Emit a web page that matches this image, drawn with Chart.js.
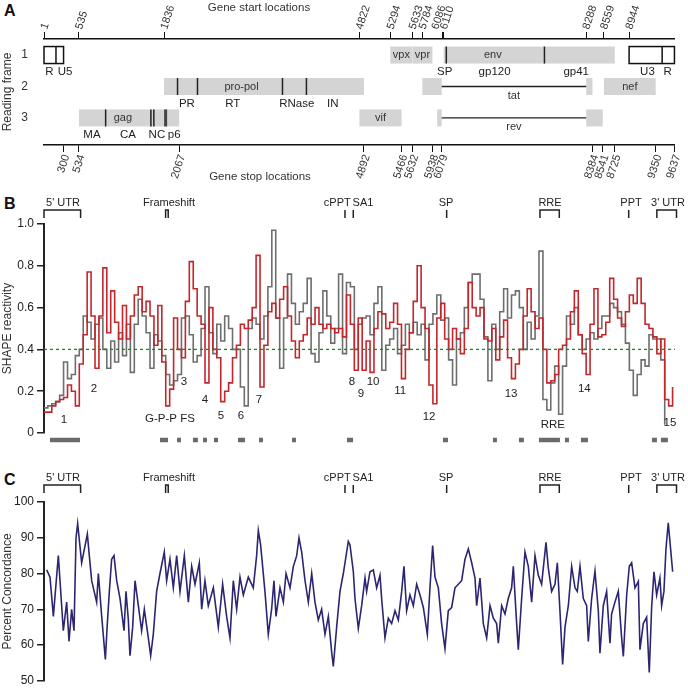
<!DOCTYPE html>
<html>
<head>
<meta charset="utf-8">
<script src="https://cdn.jsdelivr.net/npm/chart.js@4.4.1/dist/chart.umd.min.js"></script>
<style>
  body { margin: 0; background: #fff; width: 688px; height: 691px; position: relative; overflow: hidden; }
  canvas { position: absolute; left: 0; }
  .panel { position: absolute; left: 4px; font: bold 16px Arial, "Liberation Sans", sans-serif; color: #111; }
</style>
</head>
<body>
<div class="panel" style="top:2px">A</div>
<div class="panel" style="top:195px">B</div>
<div class="panel" style="top:471px">C</div>
<canvas id="mapChart" width="688" height="185" style="top:0"></canvas>
<canvas id="shapeChart" width="688" height="265" style="top:190px"></canvas>
<canvas id="concChart" width="688" height="231" style="top:460px"></canvas>
<script>
// genome length and axis ticks of panel A
const genomeLength = 9637;
const startTicks = [1, 535, 1836, 4822, 5294, 5633, 5784, 6086, 6110, 8288, 8559, 8944];
const stopTicks = [300, 534, 2067, 4892, 5466, 5632, 5938, 6079, 8384, 8541, 8725, 9350, 9637];

// genes (grey boxes)
const geneNames = ['vpx', 'vpr', 'env', 'pro-pol', 'nef', 'gag', 'vif'];
const geneFrames = [1, 1, 1, 2, 2, 3, 3];
const geneStarts = [5294, 5633, 6110, 1836, 8559, 535, 4822];
const geneEnds = [5632, 5938, 8725, 4892, 9350, 2067, 5466];
const geneLabelPos = [5463, 5785, 6860, 3020, 8955, 1207, 5144];

// spliced genes
const splicedNames = ['tat', 'rev'];
const splicedFrames = [2, 3];
const exon1Starts = [5784, 6010];
const exon1Ends = [6079, 6079];
const exon2Starts = [8288, 8288];
const exon2Ends = [8384, 8541];

// LTRs (open boxes)
const ltrStarts = [1, 8944];
const ltrEnds = [300, 9637];
const ltrSplits = [184, 9449];

// protein domain boundaries and labels
const cutPos = [943, 1635, 1680, 2042, 2347, 3646, 4012, 6150, 7650];
const cutFrames = [3, 3, 3, 2, 2, 2, 2, 1, 1];
const p6Pos = 1860;
const domainNames = ['MA', 'CA', 'NC', 'p6', 'PR', 'RT', 'RNase', 'IN', 'SP', 'gp120', 'gp41', 'R', 'U5', 'U3', 'R'];
const domainFrames = [3, 3, 3, 3, 2, 2, 2, 2, 1, 1, 1, 1, 1, 1, 1];
const domainPos = [734, 1284, 1727, 1990, 2185, 2887, 3864, 4414, 6125, 6888, 8135, 82, 322, 9224, 9534];

// genome features marked above B and C
const featNames = ["5' UTR", 'Frameshift', 'cPPT', 'SA1', 'SP', 'RRE', 'PPT', "3' UTR"];
const featStarts = [1, 1858, 4597, 4724, 6150, 7575, 8930, 9360];
const featEnds = [560, 1898, 4597, 4724, 6150, 7870, 8930, 9660];
const featLabelPos = [291, 1910, 4480, 4872, 6140, 7728, 8965, 9530];

// SHAPE reactivity (two data sets)
const shapePos = [
  1, 60, 120, 180, 240, 300, 360, 420, 480, 540,
  600, 660, 720, 780, 840, 900, 960, 1020, 1080, 1140,
  1200, 1260, 1320, 1380, 1440, 1500, 1560, 1620, 1680, 1740,
  1800, 1860, 1920, 1980, 2040, 2100, 2160, 2220, 2280, 2340,
  2400, 2460, 2520, 2580, 2640, 2700, 2760, 2820, 2880, 2940,
  3000, 3060, 3120, 3180, 3240, 3300, 3360, 3420, 3480, 3540,
  3600, 3660, 3720, 3780, 3840, 3900, 3960, 4020, 4080, 4140,
  4200, 4260, 4320, 4380, 4440, 4500, 4560, 4620, 4680, 4740,
  4800, 4860, 4920, 4980, 5040, 5100, 5160, 5220, 5280, 5340,
  5400, 5460, 5520, 5580, 5640, 5700, 5760, 5820, 5880, 5940,
  6000, 6060, 6120, 6180, 6240, 6300, 6360, 6420, 6480, 6540,
  6600, 6660, 6720, 6780, 6840, 6900, 6960, 7020, 7080, 7140,
  7200, 7260, 7320, 7380, 7440, 7500, 7560, 7620, 7680, 7740,
  7800, 7860, 7920, 7980, 8040, 8100, 8160, 8220, 8280, 8340,
  8400, 8460, 8520, 8580, 8640, 8700, 8760, 8820, 8880, 8940,
  9000, 9060, 9120, 9180, 9240, 9300, 9360, 9420, 9480, 9540,
  9600
];
const shapeRed = [
  .10, .10, .13, .15, .16, .17, .23, .20, .13, .33,
  .47, .77, .56, .31, .56, .79, .48, .68, .53, .45,
  .61, .45, .56, .66, .70, .58, .63, .56, .42, .61,
  .34, .13, .21, .55, .40, .36, .63, .82, .69, .56,
  .52, .24, .60, .40, .36, .15, .20, .24, .36, .42,
  .52, .50, .54, .60, .85, .22, .42, .58, .62, .55,
  .64, .70, .56, .44, .36, .44, .47, .55, .52, .60,
  .52, .50, .52, .50, .48, .50, .46, .66, .52, .30,
  .55, .30, .44, .29, .50, .58, .57, .50, .53, .62,
  .52, .26, .40, .48, .63, .80, .60, .50, .23, .14,
  .55, .62, .45, .40, .50, .45, .38, .50, .72, .60,
  .56, .60, .45, .44, .50, .35, .46, .54, .36, .26,
  .33, .40, .56, .69, .58, .50, .55, .40, .24, .25,
  .28, .40, .42, .45, .58, .68, .47, .38, .28, .52,
  .69, .46, .47, .53, .74, .64, .55, .51, .58, .66,
  .62, .74, .62, .52, .50, .46, .38, .45, .16, .13,
  .22
];
const shapeGrey = [
  .12, .13, .14, .15, .18, .34, .26, .28, .37, .40,
  .56, .53, .45, .52, .55, .40, .31, .44, .34, .48,
  .37, .52, .29, .52, .64, .56, .48, .31, .47, .44,
  .37, .28, .23, .25, .28, .55, .56, .47, .34, .37,
  .50, .70, .48, .38, .52, .44, .56, .50, .40, .40,
  .22, .13, .50, .55, .52, .45, .56, .70, .97, .55,
  .31, .55, .76, .62, .52, .58, .62, .74, .38, .34,
  .48, .68, .56, .43, .50, .76, .38, .72, .70, .40,
  .52, .55, .56, .47, .62, .70, .30, .42, .45, .50,
  .38, .42, .52, .48, .53, .47, .52, .35, .52, .57,
  .66, .54, .55, .35, .23, .45, .48, .60, .72, .76,
  .76, .64, .46, .25, .52, .40, .58, .69, .55, .66,
  .68, .60, .40, .53, .45, .56, .87, .16, .11, .24,
  .32, .09, .32, .56, .52, .60, .47, .40, .45, .48,
  .45, .50, .56, .56, .62, .60, .58, .52, .43, .30,
  .18, .28, .35, .32, .47, .45, .45, .35, .04, null,
  null
];
const shapeThreshold = 0.4;

// low-reactivity regions (grey blocks under B)
const blockStarts = [93, 1772, 2032, 2276, 2429, 2597, 2964, 3284, 3788, 4628, 6094, 6857, 7254, 7560, 7957, 8201, 9285, 9422];
const blockEnds = [551, 1894, 2093, 2352, 2490, 2658, 3070, 3345, 3849, 4720, 6170, 6918, 7330, 7880, 8018, 8308, 9361, 9529];

// numbered low-SHAPE labels in B
const dipLabels = ['1', '2', '3', '4', '5', '6', '7', 'G-P-P FS', '8', '9', '10', '11', '12', '13', '14', 'RRE', '15'];
const dipPos = [306, 764, 2139, 2460, 2704, 3009, 3284, 1924, 4704, 4842, 5026, 5439, 5882, 7134, 8253, 7772, 9560];
const dipVal = [.062, .211, .244, .158, .081, .081, .158, .067, .244, .187, .244, .201, .077, .187, .211, .038, .048];

// percent concordance (vertices)
const concPos = [
  42, 93, 144, 220, 296, 347, 383, 423, 459, 490,
  515, 576, 663, 693, 729, 805, 831, 882, 938, 968,
  999, 1034, 1070, 1111, 1162, 1223, 1253, 1289, 1314, 1355,
  1391, 1442, 1492, 1533, 1594, 1630, 1670, 1721, 1772, 1838,
  1874, 1925, 1976, 2027, 2078, 2144, 2205, 2256, 2307, 2373,
  2409, 2459, 2510, 2587, 2663, 2729, 2790, 2841, 2892, 2943,
  2994, 3045, 3121, 3197, 3248, 3274, 3309, 3375, 3426, 3477,
  3513, 3544, 3605, 3656, 3697, 3758, 3809, 3860, 3895, 3936,
  3987, 4038, 4089, 4139, 4190, 4241, 4292, 4343, 4394, 4419,
  4470, 4521, 4572, 4648, 4674, 4725, 4750, 4801, 4852, 4903,
  4928, 4979, 5030, 5081, 5132, 5157, 5208, 5259, 5310, 5361,
  5412, 5463, 5498, 5539, 5590, 5641, 5692, 5743, 5794, 5855,
  5895, 5936, 5972, 6023, 6073, 6124, 6175, 6226, 6277, 6328,
  6379, 6430, 6481, 6532, 6583, 6608, 6659, 6710, 6761, 6812,
  6863, 6913, 6939, 6990, 7041, 7091, 7142, 7168, 7219, 7244,
  7295, 7346, 7397, 7448, 7499, 7550, 7600, 7667, 7702, 7753,
  7804, 7840, 7880, 7921, 7957, 8008, 8059, 8110, 8145, 8186,
  8237, 8288, 8313, 8364, 8415, 8466, 8491, 8542, 8593, 8644,
  8669, 8720, 8771, 8822, 8848, 8899, 8939, 8975, 9026, 9077,
  9102, 9153, 9204, 9244, 9280, 9316, 9357, 9407, 9433, 9468,
  9499, 9534, 9570, 9601
];
const concValues = [
  81, 79, 68, 85, 64, 72, 61, 70, 64, 90,
  94, 83, 91, 85, 78, 72, 80, 68, 56, 66,
  75, 84, 85, 78, 73, 64, 75, 67, 57, 65,
  78, 71, 64, 70, 62, 57, 63, 75, 80, 86,
  78, 84, 76, 85, 75, 85, 72, 82, 77, 83,
  70, 78, 71, 76, 65, 77, 68, 62, 78, 70,
  79, 74, 79, 76, 85, 92, 88, 75, 63, 70,
  78, 68, 76, 72, 80, 76, 82, 85, 90, 86,
  78, 72, 80, 72, 67, 70, 63, 68, 58, 54,
  65, 75, 80, 89, 88, 80.5, 73, 64.6, 71, 78.7,
  75, 80.5, 81, 76, 79.5, 73, 62, 67.5, 66, 69.6,
  67, 75, 82, 69.6, 74, 71, 77, 74, 70.5, 63,
  76, 87.8, 79, 76, 66, 59, 69.6, 70.5, 76, 77,
  78, 84, 86.9, 83, 78.7, 71, 78.7, 66, 62, 71,
  67.5, 66, 60.5, 71, 68.7, 73, 76, 82, 66, 58.7,
  73, 86, 82, 72, 85, 79.5, 77, 88.7, 81.6, 75,
  77, 83, 69.6, 54.6, 65, 71, 82, 76, 75, 82,
  73, 71, 61, 73, 80.7, 69.6, 57.7, 71, 75, 60.5,
  68.7, 72, 75, 62, 56.8, 74, 82, 83, 76, 77.8,
  58.7, 66, 67.8, 52.3, 70.5, 80.5, 74, 78.7, 71, 75,
  86.9, 94.2, 86.9, 80.5
];

const FONT = 'Arial, "Liberation Sans", sans-serif';
const INK = '#222';
const GENE_GREY = '#d4d4d4';
const RED = '#c4262c';
const GREY = '#6e6e6e';
const GREEN = '#23812a';
const NAVY = '#2c2672';
const startLabelNudge = { 6086: -7 };

Chart.defaults.font.family = FONT;
Chart.defaults.color = INK;
Chart.defaults.animation = false;

// ---- panel A: genome map ----
const geneMapPlugin = {
  id: 'geneMap',
  afterDraw(chart) {
    const { ctx } = chart;
    const x = chart.scales.x, y = chart.scales.y, xt = chart.scales.xTop;
    const px = v => x.getPixelForValue(v);
    const half = 8.5;
    ctx.save();
    ctx.font = '11px ' + FONT;
    ctx.textAlign = 'center';
    ctx.textBaseline = 'middle';

    geneNames.forEach((name, i) => {
      const yc = y.getPixelForValue(geneFrames[i]);
      ctx.fillStyle = GENE_GREY;
      ctx.fillRect(px(geneStarts[i]), yc - half, px(geneEnds[i]) - px(geneStarts[i]), half * 2);
      ctx.fillStyle = '#333';
      ctx.fillText(name, px(geneLabelPos[i]), yc);
    });

    splicedNames.forEach((name, i) => {
      const yc = y.getPixelForValue(splicedFrames[i]);
      ctx.fillStyle = GENE_GREY;
      ctx.fillRect(px(exon1Starts[i]), yc - half, px(exon1Ends[i]) - px(exon1Starts[i]), half * 2);
      ctx.fillRect(px(exon2Starts[i]), yc - half, px(exon2Ends[i]) - px(exon2Starts[i]), half * 2);
      ctx.strokeStyle = INK;
      ctx.lineWidth = 1.3;
      ctx.beginPath();
      ctx.moveTo(px(exon1Ends[i]), yc);
      ctx.lineTo(px(exon2Starts[i]), yc);
      ctx.stroke();
      ctx.fillStyle = '#333';
      ctx.fillText(name, (px(exon1Ends[i]) + px(exon2Starts[i])) / 2, yc + 9);
    });

    ctx.strokeStyle = '#111';
    ctx.lineWidth = 1.5;
    ltrStarts.forEach((s, i) => {
      const yc = y.getPixelForValue(1);
      ctx.fillStyle = '#fff';
      ctx.fillRect(px(s), yc - half, px(ltrEnds[i]) - px(s), half * 2);
      ctx.strokeRect(px(s), yc - half, px(ltrEnds[i]) - px(s), half * 2);
      ctx.beginPath();
      ctx.moveTo(px(ltrSplits[i]), yc - half);
      ctx.lineTo(px(ltrSplits[i]), yc + half);
      ctx.stroke();
    });

    ctx.strokeStyle = '#222';
    cutPos.forEach((p, i) => {
      const yc = y.getPixelForValue(cutFrames[i]);
      ctx.beginPath();
      ctx.moveTo(px(p), yc - half);
      ctx.lineTo(px(p), yc + half);
      ctx.stroke();
    });
    const y3 = y.getPixelForValue(3);
    ctx.fillStyle = '#444';
    ctx.fillRect(px(p6Pos) - 1.5, y3 - half, 3, half * 2);

    ctx.fillStyle = INK;
    ctx.font = '11.5px ' + FONT;
    domainNames.forEach((name, i) => {
      ctx.fillText(name, px(domainPos[i]), y.getPixelForValue(domainFrames[i]) + 17);
    });

    ctx.fillStyle = '#333';
    ctx.fillText('Gene start locations', 259, 8);
    ctx.fillText('Gene stop locations', 260, 177);

    // rotated gene start labels above the top axis
    ctx.font = '11px ' + FONT;
    ctx.textAlign = 'left';
    startTicks.forEach(v => {
      ctx.save();
      ctx.translate(xt.getPixelForValue(v) + (startLabelNudge[v] || 0), xt.bottom - 10);
      ctx.rotate(-72 * Math.PI / 180);
      ctx.fillText(String(v), 0, 0);
      ctx.restore();
    });
    ctx.restore();
  }
};

const tickAxis = (position, ticks, height, showLabels) => ({
  type: 'linear',
  position: position,
  min: 1,
  max: genomeLength,
  afterBuildTicks: axis => { axis.ticks = ticks.map(v => ({ value: v })); },
  afterFit: axis => { axis.height = height; },
  grid: { drawOnChartArea: false, drawTicks: true, tickLength: 7, color: '#111', lineWidth: 1 },
  border: { display: true, color: '#111', width: 1.5 },
  ticks: {
    display: showLabels,
    autoSkip: false,
    minRotation: 72,
    maxRotation: 72,
    padding: 1,
    labelOffset: 3,
    color: '#333',
    font: { size: 11 },
    callback: v => String(v)
  }
});

new Chart(document.getElementById('mapChart'), {
  type: 'scatter',
  data: { datasets: [] },
  options: {
    responsive: false,
    layout: { padding: { left: 0, right: 13, top: 0, bottom: 0 } },
    plugins: { legend: { display: false }, tooltip: { enabled: false } },
    scales: {
      xTop: Object.assign(tickAxis('top', startTicks, 39, false), { axis: 'x' }),
      x: tickAxis('bottom', stopTicks, 40, true),
      y: {
        min: 0.49,
        max: 3.86,
        reverse: true,
        afterBuildTicks: axis => { axis.ticks = [1, 2, 3].map(v => ({ value: v })); },
        afterFit: axis => { axis.width = 44; },
        grid: { display: false, drawTicks: false },
        border: { display: false },
        ticks: { padding: 16, color: '#333', font: { size: 12 } },
        title: { display: true, text: 'Reading frame', color: '#333', font: { size: 12 }, padding: { top: 0, bottom: 0 } }
      }
    }
  },
  plugins: [geneMapPlugin]
});

// ---- feature markers above B and C ----
function featurePlugin(textDy, topDy, bottomDy) {
  return {
    id: 'featureMarks',
    afterDraw(chart) {
      const { ctx, chartArea } = chart;
      const x = chart.scales.x;
      const top = chartArea.top;
      ctx.save();
      ctx.strokeStyle = INK;
      ctx.fillStyle = INK;
      ctx.lineWidth = 1.5;
      ctx.font = '11px ' + FONT;
      ctx.textAlign = 'center';
      ctx.textBaseline = 'middle';
      featNames.forEach((name, i) => {
        const x0 = x.getPixelForValue(featStarts[i]);
        const x1 = x.getPixelForValue(featEnds[i]);
        ctx.beginPath();
        if (x1 - x0 < 1) {
          ctx.moveTo(x0, top + topDy);
          ctx.lineTo(x0, top + bottomDy);
        } else {
          ctx.moveTo(x0, top + bottomDy);
          ctx.lineTo(x0, top + topDy);
          ctx.lineTo(x1, top + topDy);
          ctx.lineTo(x1, top + bottomDy);
        }
        ctx.stroke();
        ctx.fillText(name, x.getPixelForValue(featLabelPos[i]), top + textDy);
      });
      ctx.restore();
    }
  };
}

const dipLabelPlugin = {
  id: 'dipLabels',
  afterDraw(chart) {
    const { ctx } = chart;
    const x = chart.scales.x, y = chart.scales.y;
    ctx.save();
    ctx.fillStyle = INK;
    ctx.font = '11.5px ' + FONT;
    ctx.textAlign = 'center';
    ctx.textBaseline = 'middle';
    dipLabels.forEach((t, i) => ctx.fillText(t, x.getPixelForValue(dipPos[i]), y.getPixelForValue(dipVal[i])));
    ctx.restore();
  }
};

const valueAxis = (min, max, step, title, fmt) => ({
  min: min,
  max: max,
  afterFit: axis => { axis.width = 44; },
  grid: { drawOnChartArea: false, drawTicks: true, tickLength: 7, color: INK, lineWidth: 1.5 },
  border: { display: true, color: INK, width: 2 },
  ticks: { stepSize: step, padding: 3, color: INK, font: { size: 12 }, callback: fmt },
  title: { display: true, text: title, color: '#333', font: { size: 12 }, padding: { top: 0, bottom: 0 } }
});

// ---- panel B: SHAPE reactivity ----
const blockData = [];
blockStarts.forEach((s, i) => {
  blockData.push({ x: s, y: -0.033 }, { x: blockEnds[i], y: -0.033 }, { x: blockEnds[i] + 1, y: null });
});

new Chart(document.getElementById('shapeChart'), {
  type: 'line',
  data: {
    datasets: [
      {
        label: 'threshold',
        data: [{ x: 1, y: shapeThreshold }, { x: genomeLength, y: shapeThreshold }],
        borderColor: GREEN, borderWidth: 1.3, borderDash: [3, 3], pointRadius: 0
      },
      {
        label: 'red',
        data: shapePos.map((p, i) => ({ x: p, y: shapeRed[i] })),
        borderColor: RED, borderWidth: 1.6, pointRadius: 0, stepped: true
      },
      {
        label: 'grey',
        data: shapePos.map((p, i) => ({ x: p, y: shapeGrey[i] })),
        borderColor: GREY, borderWidth: 1.6, pointRadius: 0, stepped: true
      },
      {
        label: 'regions',
        data: blockData,
        borderColor: '#6a6a6a', borderWidth: 4.5, borderCapStyle: 'butt', pointRadius: 0, clip: false, spanGaps: false
      }
    ]
  },
  options: {
    responsive: false,
    layout: { padding: { left: 0, right: 13, top: 34, bottom: 22 } },
    plugins: { legend: { display: false }, tooltip: { enabled: false } },
    scales: {
      x: { type: 'linear', min: 1, max: genomeLength, display: false },
      y: valueAxis(0, 1, 0.2, 'SHAPE reactivity', v => (v === 0 ? '0' : v.toFixed(1)))
    }
  },
  plugins: [featurePlugin(-21, -14, -6), dipLabelPlugin]
});

// ---- panel C: percent concordance ----
new Chart(document.getElementById('concChart'), {
  type: 'line',
  data: {
    datasets: [{
      label: 'concordance',
      data: concPos.map((p, i) => ({ x: p, y: concValues[i] })),
      borderColor: NAVY, borderWidth: 1.6, pointRadius: 0, tension: 0
    }]
  },
  options: {
    responsive: false,
    layout: { padding: { left: 0, right: 13, top: 42, bottom: 6 } },
    plugins: { legend: { display: false }, tooltip: { enabled: false } },
    scales: {
      x: { type: 'linear', min: 1, max: genomeLength, display: false },
      y: valueAxis(50, 100, 10, 'Percent Concordance', v => String(v))
    }
  },
  plugins: [featurePlugin(-24, -17, -9)]
});
</script>
</body>
</html>
